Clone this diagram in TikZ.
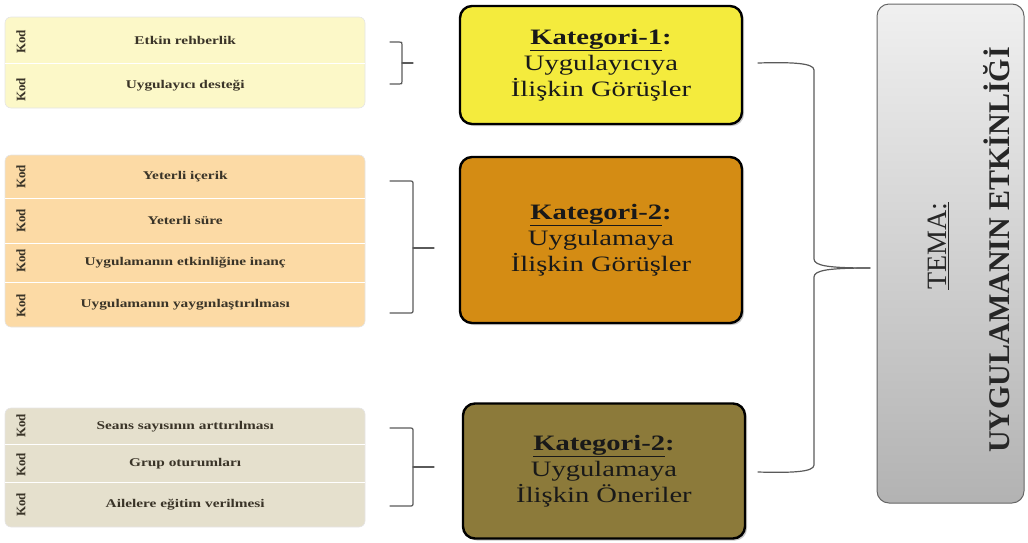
\documentclass[tikz,border=0pt]{standalone}
\usepackage{fontspec}
\setmainfont{Liberation Serif}
\newfontfamily\widefont[FakeStretch=1.3]{Liberation Serif}
\usetikzlibrary{shadows}
\definecolor{gA}{HTML}{FCF8C8}
\definecolor{gB}{HTML}{FCDAA5}
\definecolor{gC}{HTML}{E5E0CD}
\definecolor{catA}{HTML}{F4EB3D}
\definecolor{catB}{HTML}{D48C14}
\definecolor{catC}{HTML}{8C7A3A}
\definecolor{txtdk}{HTML}{3A3428}
\definecolor{brcol}{HTML}{5A5A5A}
\begin{document}
\begin{tikzpicture}[x=1pt,y=-1pt,
  rowbox/.style={minimum width=360pt, minimum height=#1, inner sep=0pt, anchor=north west,
    font=\widefont\bfseries\fontsize{11.8}{13}\selectfont, text=txtdk},
  kodlbl/.style={rotate=90, inner sep=0pt, font=\bfseries\fontsize{13}{14}\selectfont, text=txtdk},
  groupbg/.style={rounded corners=6pt, draw=black!10, line width=0.6pt},
  divider/.style={draw=white, line width=1.6pt},
  catbox/.style={draw=black, line width=2.4pt, rounded corners=12pt, align=center,
    inner sep=2pt, font=\widefont\fontsize{22}{26}\selectfont, text=black!90,
    drop shadow={shadow xshift=2pt, shadow yshift=-2pt, opacity=0.45}},
  brc/.style={draw=brcol, line width=1.2pt, line cap=round, line join=round},
  themebox/.style={draw=black!60, line width=1pt, rounded corners=12pt,
    top color=black!6, bottom color=black!30},
]
\useasboundingbox (0,0) rectangle (1028,542);

% ---- group 1 ----
\fill[gA, groupbg] (5,17) rectangle (365,108);
\node[rowbox=46pt] (r11) at (5,17) {Etkin rehberlik};
\node[rowbox=45pt] (r12) at (5,63) {Uygulayıcı desteği};
\draw[divider] (r11.south west) -- (r11.south east);
\node[kodlbl] (k11) at (21,42) {Kod};
\node[kodlbl] (k12) at (21,90) {Kod};

% ---- group 2 ----
\fill[gB, groupbg] (5,155) rectangle (365,327);
\node[rowbox=43pt] (r21) at (5,155) {Yeterli içerik};
\node[rowbox=45pt] (r22) at (5,198) {Yeterli süre};
\node[rowbox=39pt] (r23) at (5,243) {Uygulamanın etkinliğine inanç};
\node[rowbox=45pt] (r24) at (5,282) {Uygulamanın yaygınlaştırılması};
\draw[divider] (r21.south west) -- (r21.south east);
\draw[divider] (r22.south west) -- (r22.south east);
\draw[divider] (r23.south west) -- (r23.south east);
\node[kodlbl] (k21) at (21,177) {Kod};
\node[kodlbl] (k22) at (21,221) {Kod};
\node[kodlbl] (k23) at (21,261) {Kod};
\node[kodlbl] (k24) at (21,306) {Kod};

% ---- group 3 ----
\fill[gC, groupbg] (5,408) rectangle (365,527);
\node[rowbox=36pt] (r31) at (5,408) {Seans sayısının arttırılması};
\node[rowbox=38pt] (r32) at (5,444) {Grup oturumları};
\node[rowbox=45pt] (r33) at (5,482) {Ailelere eğitim verilmesi};
\draw[divider] (r31.south west) -- (r31.south east);
\draw[divider] (r32.south west) -- (r32.south east);
\node[kodlbl] (k31) at (21,426) {Kod};
\node[kodlbl] (k32) at (21,465) {Kod};
\node[kodlbl] (k33) at (21,505) {Kod};

% ---- categories ----
\node[catbox, fill=catA, minimum width=282pt, minimum height=118pt] (c1) at (601,65)
  {{\bfseries\underline{Kategori-1}:}\\Uygulayıcıya\\İlişkin Görüşler};
\node[catbox, fill=catB, minimum width=282pt, minimum height=166pt] (c2) at (601,240)
  {{\bfseries\underline{Kategori-2}:}\\Uygulamaya\\İlişkin Görüşler};
\node[catbox, fill=catC, minimum width=282pt, minimum height=135pt] (c3) at (604,471)
  {{\bfseries\underline{Kategori-2}:}\\Uygulamaya\\İlişkin Öneriler};

% ---- theme ----
\node[themebox, minimum width=147pt, minimum height=499pt] (tema) at (950.5,253.5) {};
\node[rotate=90, inner sep=0pt, font=\fontsize{28}{30}\selectfont, text=black!85] (temalbl) at (938,246) {\underline{TEMA:}};
\node[rotate=90, inner sep=0pt, font=\bfseries\fontsize{30}{32}\selectfont, text=black!85] (tematxt) at (997,250) {UYGULAMANIN ETKİNLİĞİ};

% ---- small braces ----
\coordinate (b1t) at (390,42);
\coordinate (b1b) at (390,84);
\coordinate (b1m) at (402,63);
\coordinate (b1e) at (413,63);
\draw[brc] (b1t) -- (399,42) .. controls (402,42) .. (402,45) -- (402,81) .. controls (402,84) .. (399,84) -- (b1b);
\draw[brc] (b1m) -- (b1e);

\coordinate (b2t) at (390,181);
\coordinate (b2b) at (390,313);
\coordinate (b2m) at (413,248);
\coordinate (b2e) at (434,248);
\draw[brc] (b2t) -- (409,181) .. controls (413,181) .. (413,185) -- (413,309) .. controls (413,313) .. (409,313) -- (b2b);
\draw[brc] (b2m) -- (b2e);

\coordinate (b3t) at (390,428);
\coordinate (b3b) at (390,506);
\coordinate (b3m) at (413,467);
\coordinate (b3e) at (434,467);
\draw[brc] (b3t) -- (409,428) .. controls (413,428) .. (413,432) -- (413,502) .. controls (413,506) .. (409,506) -- (b3b);
\draw[brc] (b3m) -- (b3e);

% ---- big brace ----
\coordinate (bbt) at (758,63);
\coordinate (bbb) at (758,472);
\coordinate (bbtip) at (870,268);
\draw[brc] (bbt) .. controls (792,62) and (814,63) .. (814,70) -- (814,259)
  .. controls (814,266) and (830,268) .. (bbtip);
\draw[brc] (bbtip) .. controls (830,268) and (814,270) .. (814,277) -- (814,465)
  .. controls (814,472) and (792,473) .. (bbb);
\end{tikzpicture}
\end{document}
